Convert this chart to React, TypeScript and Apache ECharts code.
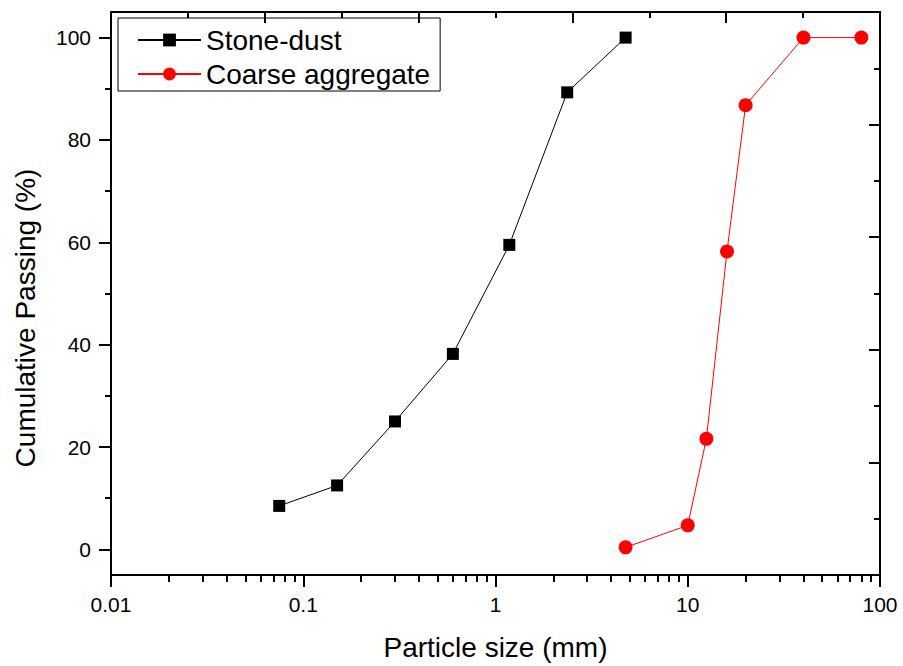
import React, { useEffect, useRef } from "react";
import * as echarts from "echarts";

const stoneSizes = [0.075, 0.15, 0.3, 0.6, 1.18, 2.36, 4.75];
const stonePassing = [8.5, 12.5, 25.0, 38.2, 59.5, 89.3, 100];
const coarseSizes = [4.75, 10, 12.5, 16, 20, 40, 80];
const coarsePassing = [0.4, 4.7, 21.6, 58.2, 86.8, 100, 100];
const yMajorTicks = [0, 20, 40, 60, 80, 100];
const yMinorTicks = [10, 30, 50, 70, 90];
const xMinorTicks = [
  0.02, 0.03, 0.04, 0.05, 0.06, 0.07, 0.08, 0.09,
  0.2, 0.3, 0.4, 0.5, 0.6, 0.7, 0.8, 0.9,
  2, 3, 4, 5, 6, 7, 8, 9,
  20, 30, 40, 50, 60, 70, 80, 90,
];

const FONT = '"Liberation Sans", Arial, sans-serif';

export default function App() {
  const ref = useRef<HTMLDivElement>(null);
  useEffect(() => {
    if (!ref.current) return;
    const chart = echarts.init(ref.current, null, { renderer: "svg" });
    const line = { show: true, onZero: false, lineStyle: { color: "#000", width: 2 } };
    chart.setOption({
      animation: false,
      backgroundColor: "#fff",
      grid: { left: 111, right: 23, top: 12, bottom: 89, containLabel: false },
      legend: {
        orient: "vertical",
        left: 118,
        top: 18,
        padding: [8, 10, 3, 19],
        borderColor: "#000",
        borderWidth: 1,
        itemWidth: 63,
        itemHeight: 16,
        itemGap: 6,
        textStyle: { fontSize: 28, fontFamily: FONT, color: "#000" },
        data: ["Stone-dust", "Coarse aggregate"],
      },
      xAxis: [
        {
          type: "log",
          logBase: 10,
          min: 0.01,
          max: 100,
          position: "bottom",
          axisLine: line,
          axisTick: { show: true, inside: false, length: 12, lineStyle: { color: "#000", width: 2 } },
          minorTick: { show: false },
          axisLabel: { fontSize: 21, fontFamily: FONT, color: "#000", margin: 19 },
          splitLine: { show: false },
          name: "Particle size (mm)",
          nameLocation: "middle",
          nameGap: 58,
          nameTextStyle: { fontSize: 28, fontFamily: FONT, color: "#000" },
        },
        {
          type: "log",
          logBase: 10,
          min: 0.01,
          max: 100,
          position: "bottom",
          axisLine: { show: false, onZero: false },
          axisTick: { show: true, inside: false, length: 7, customValues: xMinorTicks, lineStyle: { color: "#000", width: 2 } },
          axisLabel: { show: false },
          splitLine: { show: false },
        },
        {
          type: "value",
          min: 0,
          max: 10,
          interval: 2,
          position: "top",
          axisLine: line,
          axisTick: { show: true, inside: true, length: 11, lineStyle: { color: "#000", width: 2 } },
          minorTick: { show: true, splitNumber: 2, length: 6, lineStyle: { color: "#000", width: 2 } },
          axisLabel: { show: false },
          splitLine: { show: false },
        },
      ],
      yAxis: [
        {
          type: "value",
          min: -5,
          max: 105,
          position: "left",
          axisLine: line,
          axisTick: { show: true, inside: false, length: 12, customValues: yMajorTicks, lineStyle: { color: "#000", width: 2 } },
          axisLabel: { fontSize: 21, fontFamily: FONT, color: "#000", margin: 20, customValues: yMajorTicks },
          splitLine: { show: false },
        },
        {
          type: "value",
          min: 0,
          max: 10,
          interval: 2,
          position: "right",
          axisLine: line,
          axisTick: { show: true, inside: true, length: 11, lineStyle: { color: "#000", width: 2 } },
          minorTick: { show: true, splitNumber: 2, length: 6, lineStyle: { color: "#000", width: 2 } },
          axisLabel: { show: false },
          splitLine: { show: false },
        },
        {
          type: "value",
          min: -5,
          max: 105,
          position: "left",
          axisLine: { show: false, onZero: false },
          axisTick: { show: true, inside: false, length: 6, customValues: yMinorTicks, lineStyle: { color: "#000", width: 2 } },
          axisLabel: { show: false },
          splitLine: { show: false },
        },
      ],
      graphic: [
        {
          type: "text",
          x: 25,
          y: 318,
          rotation: Math.PI / 2,
          style: {
            text: "Cumulative Passing (%)",
            font: `28px ${FONT}`,
            fill: "#000",
            textAlign: "center",
            textVerticalAlign: "middle",
          },
        },
      ],
      series: [
        {
          name: "Stone-dust",
          type: "line",
          xAxisIndex: 0,
          yAxisIndex: 0,
          data: stoneSizes.map((s, i) => [s, stonePassing[i]]),
          symbol: "rect",
          symbolSize: 12,
          itemStyle: { color: "#000" },
          lineStyle: { color: "#000", width: 1 },
        },
        {
          name: "Coarse aggregate",
          type: "line",
          xAxisIndex: 0,
          yAxisIndex: 0,
          data: coarseSizes.map((s, i) => [s, coarsePassing[i]]),
          symbol: "circle",
          symbolSize: 14,
          itemStyle: { color: "#ff0000" },
          lineStyle: { color: "#ff0000", width: 1 },
        },
      ],
    });
    return () => chart.dispose();
  }, []);
  return (
    <div
      ref={ref}
      style={{ position: "fixed", left: 0, top: 0, width: 903, height: 666 }}
    />
  );
}
